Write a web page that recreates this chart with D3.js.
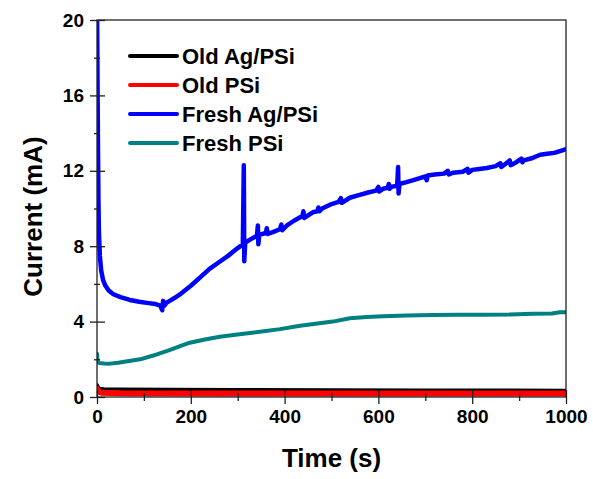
<!DOCTYPE html>
<html>
<head>
<meta charset="utf-8">
<script src="https://cdn.jsdelivr.net/npm/d3@7"></script>
<style>
  html, body { margin: 0; padding: 0; background: #fff; }
  svg { display: block; font-family: "Liberation Sans", Arial, sans-serif; font-weight: bold; }
</style>
</head>
<body>
<svg id="chart" width="593" height="479"></svg>
<script>
// Chronoamperometry traces: time (s) vs current (mA)
const seriesNames = ["Old Ag/PSi", "Old PSi", "Fresh Ag/PSi", "Fresh PSi"];
const seriesColors = ["#000000", "#ff0000", "#0000ff", "#008080"];

const oldAgPSi = [[0,0.6],[2,0.5],[5,0.42],[15,0.4],[50,0.38],[150,0.37],[300,0.36],[500,0.34],[700,0.33],[850,0.33],[1000,0.32]];
const oldPSi = [[0,0.45],[3,0.3],[10,0.23],[50,0.2],[300,0.19],[600,0.18],[1000,0.18]];
const freshAgPSi = [[0,21],[1,17],[2,13.5],[3,10.5],[4,8.8],[6,7.5],[9,6.7],[13,6.2],[18,5.9],[25,5.65],[35,5.45],[50,5.3],[70,5.15],[90,5.05],[110,4.98],[125,4.93],[135,4.85],[139,4.6],[141,5.1],[144,4.85],[148,5.0],[155,5.1],[165,5.25],[180,5.5],[200,5.9],[220,6.35],[240,6.8],[260,7.15],[280,7.5],[300,7.9],[311,8.1],[313,12.3],[314,7.2],[316,8.2],[330,8.4],[341,8.55],[343,9.1],[344,8.1],[346,8.6],[360,8.7],[362,8.95],[364,8.65],[375,8.75],[390,8.9],[393,9.15],[395,8.85],[405,9.1],[420,9.35],[438,9.6],[440,9.85],[442,9.5],[460,9.8],[470,9.85],[472,10.05],[474,9.85],[480,10.0],[497,10.2],[515,10.35],[520,10.55],[522,10.3],[539,10.57],[560,10.72],[578,10.85],[595,10.95],[600,11.15],[602,10.9],[610,11.05],[620,11.1],[622,11.3],[624,11.05],[628,11.15],[640,11.2],[642,12.2],[643,10.8],[645,11.3],[660,11.4],[680,11.55],[700,11.7],[703,11.5],[705,11.75],[720,11.8],[740,11.85],[748,12.0],[750,11.8],[759,11.9],[780,11.95],[790,12.1],[792,11.9],[800,12.05],[815,12.1],[831,12.15],[850,12.25],[860,12.4],[862,12.2],[870,12.35],[880,12.55],[882,12.3],[895,12.47],[905,12.65],[907,12.45],[910,12.55],[925,12.65],[945,12.85],[960,12.9],[975,12.95],[994,13.1],[1000,13.15]];
const freshPSi = [[0,2.3],[1,2.0],[2,1.85],[5,1.8],[15,1.78],[28,1.77],[45,1.82],[65,1.9],[92,2.0],[120,2.2],[156,2.5],[180,2.72],[198,2.88],[230,3.05],[262,3.2],[295,3.3],[326,3.4],[360,3.5],[390,3.6],[433,3.78],[470,3.9],[503,4.0],[539,4.18],[575,4.24],[610,4.28],[660,4.32],[717,4.35],[770,4.36],[823,4.37],[880,4.38],[930,4.42],[970,4.43],[987,4.5],[1000,4.5]];

const xTicks = [0, 200, 400, 600, 800, 1000];
const xMinorTicks = [100, 300, 500, 700, 900];
const yTicks = [0, 4, 8, 12, 16, 20];
const yMinorTicks = [2, 6, 10, 14, 18];

const svg = d3.select("#chart");
const plotLeft = 97, plotRight = 566, plotTop = 20, plotBottom = 397;

const x = d3.scaleLinear().domain([0, 1000]).range([plotLeft, plotRight]);
const y = d3.scaleLinear().domain([0, 20]).range([plotBottom, plotTop]);

svg.append("defs").append("clipPath").attr("id", "plotClip")
  .append("rect").attr("x", plotLeft).attr("y", plotTop)
  .attr("width", plotRight - plotLeft).attr("height", plotBottom - plotTop + 4);

const line = d3.line().x(d => x(d[0])).y(d => y(d[1]));
const traces = [
  { data: oldAgPSi, color: seriesColors[0], width: 4.5 },
  { data: oldPSi, color: seriesColors[1], width: 6 },
  { data: freshPSi, color: seriesColors[3], width: 4 },
  { data: freshAgPSi, color: seriesColors[2], width: 4.5 }
];
const plot = svg.append("g").attr("clip-path", "url(#plotClip)");
traces.forEach(t => {
  plot.append("path").datum(t.data)
    .attr("d", line)
    .attr("fill", "none")
    .attr("stroke", t.color)
    .attr("stroke-width", t.width)
    .attr("stroke-linejoin", "round")
    .attr("stroke-linecap", "round");
});

// frame
svg.append("rect").attr("x", plotLeft).attr("y", plotTop)
  .attr("width", plotRight - plotLeft).attr("height", plotBottom - plotTop)
  .attr("fill", "none").attr("stroke", "#222").attr("stroke-width", 1.3);

// axes with ticks crossing the frame
const gx = svg.append("g").attr("transform", `translate(0,${plotBottom})`)
  .call(d3.axisBottom(x).tickValues(xTicks).tickSizeInner(7).tickSizeOuter(0).tickPadding(6).tickFormat(d3.format("d")));
gx.select(".domain").remove();
gx.selectAll(".tick line").attr("y1", -7).attr("stroke", "#222").attr("stroke-width", 1.3);
gx.selectAll(".tick text").attr("font-size", 19).attr("font-weight", "bold").attr("fill", "#000")
  .attr("font-family", "Liberation Sans, Arial, sans-serif");

const gxm = svg.append("g").attr("transform", `translate(0,${plotBottom})`)
  .call(d3.axisBottom(x).tickValues(xMinorTicks).tickSize(4).tickFormat(""));
gxm.select(".domain").remove();
gxm.selectAll(".tick line").attr("y1", -4).attr("stroke", "#222").attr("stroke-width", 1.3);

const gy = svg.append("g").attr("transform", `translate(${plotLeft},0)`)
  .call(d3.axisLeft(y).tickValues(yTicks).tickSizeInner(7).tickSizeOuter(0).tickPadding(6).tickFormat(d3.format("d")));
gy.select(".domain").remove();
gy.selectAll(".tick line").attr("x1", 8).attr("stroke", "#222").attr("stroke-width", 1.3);
gy.selectAll(".tick text").attr("font-size", 19).attr("font-weight", "bold").attr("fill", "#000")
  .attr("font-family", "Liberation Sans, Arial, sans-serif");

const gym = svg.append("g").attr("transform", `translate(${plotLeft},0)`)
  .call(d3.axisLeft(y).tickValues(yMinorTicks).tickSize(3).tickFormat(""));
gym.select(".domain").remove();
gym.selectAll(".tick line").attr("x1", 3).attr("stroke", "#222").attr("stroke-width", 1.3);

// axis titles
svg.append("text").attr("x", (plotLeft + plotRight) / 2).attr("y", 467)
  .attr("text-anchor", "middle").attr("font-size", 26).text("Time (s)");
svg.append("text").attr("transform", `translate(42,${(plotTop + plotBottom) / 2 + 8}) rotate(-90)`)
  .attr("text-anchor", "middle").attr("font-size", 26).text("Current (mA)");

// legend
const legend = svg.append("g");
seriesNames.forEach((name, i) => {
  const ly = 56 + i * 29;
  legend.append("line").attr("x1", 130).attr("x2", 177).attr("y1", ly).attr("y2", ly)
    .attr("stroke", seriesColors[i]).attr("stroke-width", 4).attr("stroke-linecap", "round");
  legend.append("text").attr("x", 182).attr("y", ly + 7.5).attr("font-size", 22).text(name);
});
</script>
</body>
</html>
